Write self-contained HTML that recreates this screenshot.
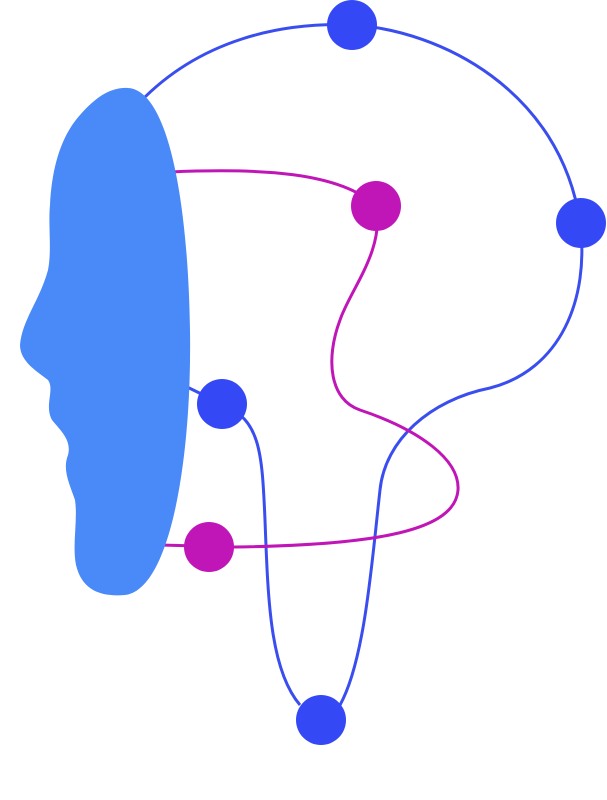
<!DOCTYPE html>
<html><head><meta charset="utf-8"><style>
html,body{margin:0;padding:0;background:#fff;}
svg{display:block;}
</style></head><body>
<svg width="607" height="800" viewBox="0 0 607 800" xmlns="http://www.w3.org/2000/svg">
<!-- blue line -->
<path d="M140,102 C200,40 280,22 352,25 C440,30 560,90 580,222 C590,300 560,370 490,388 C430,400 385,440 380,490 C372,560 365,660 340,705 M300,705 C270,670 268,600 265,520 C262,450 260,420 222,404 L185,386" fill="none" stroke="#3a4ef0" stroke-width="3"/>
<!-- magenta line -->
<path d="M170,172 C260,168 340,172 376,206 C385,250 350,290 340,320 C325,360 330,400 360,410 C420,430 460,460 458,490 C455,530 380,545 235,547 L160,545" fill="none" stroke="#c016b8" stroke-width="3"/>
<!-- face -->
<path d="M128,88 C168,90 188,200 190,330 C192,460 170,590 125,595 C100,597 82,590 76,565 C72,545 78,520 75,500 C70,485 62,470 68,455 C72,440 60,430 52,420 C44,405 55,390 48,380 C38,372 20,362 20,345 C22,320 40,300 48,270 C52,250 48,225 50,205 C52,165 62,135 80,115 C95,98 110,87 128,88 Z" fill="#4a8af8"/>
<!-- nodes -->
<circle cx="352" cy="25" r="25" fill="#3449f5"/>
<circle cx="581" cy="223" r="25" fill="#3449f5"/>
<circle cx="222" cy="404" r="25" fill="#3449f5"/>
<circle cx="321" cy="720" r="25" fill="#3449f5"/>
<circle cx="376" cy="206" r="25" fill="#c016b8"/>
<circle cx="209" cy="547" r="25" fill="#c016b8"/>
</svg>
</body></html>
